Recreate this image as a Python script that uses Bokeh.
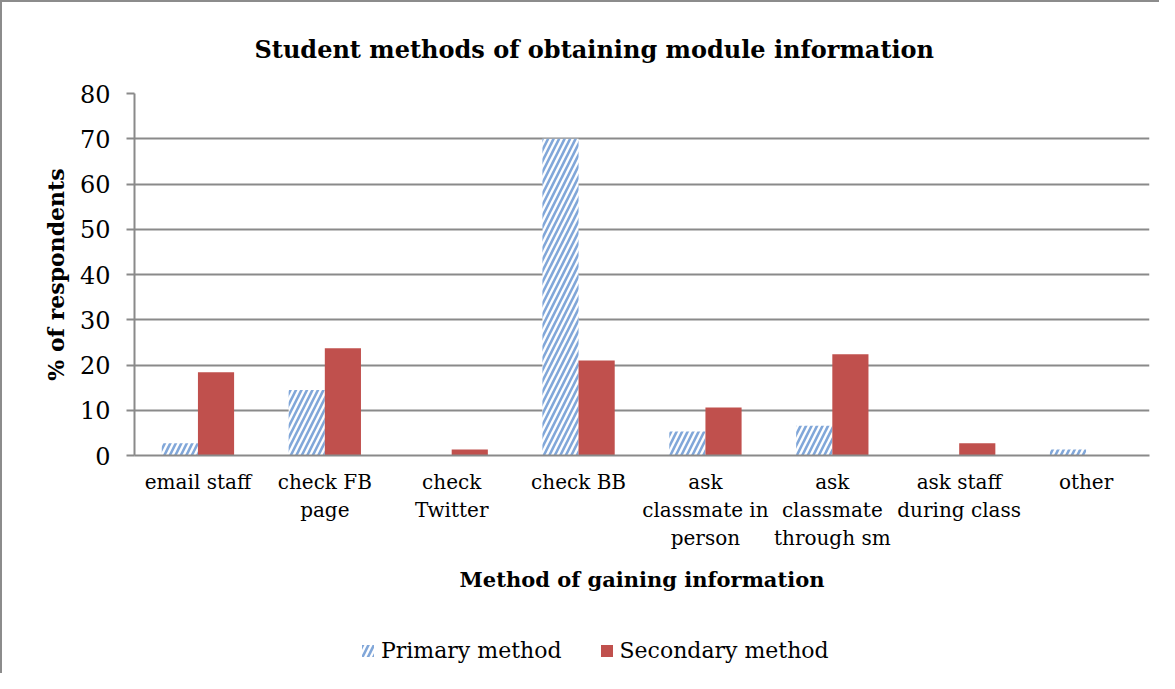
from bokeh.plotting import figure
from bokeh.models import ColumnDataSource, FixedTicker, Legend, LegendItem
from bokeh.layouts import column
from bokeh.embed import file_html
from bokeh.resources import INLINE

categories = ["email staff", "check FB\npage", "check\nTwitter", "check BB",
              "ask\nclassmate in\nperson", "ask\nclassmate\nthrough sm",
              "ask staff\nduring class", "other"]
primary = [2.7, 14.5, 0.0, 70.0, 5.3, 6.6, 0.0, 1.3]
secondary = [18.4, 23.7, 1.3, 21.0, 10.6, 22.4, 2.7, 0.0]
y_ticks = [0, 10, 20, 30, 40, 50, 60, 70, 80]
series_names = ["Primary method", "Secondary method"]

FONT = "DejaVu Serif"
GRID = "#8a8a8a"
RED = "#C0504D"
HATCH = dict(hatch_pattern="/", hatch_color="#6b98d2", hatch_alpha=0.85,
             hatch_scale=11, hatch_weight=2.6)

n = len(categories)
centers = [i + 0.5 for i in range(n)]
bw = 0.285
src = ColumnDataSource(dict(
    xp=[c - bw / 2 for c in centers],
    xs=[c + bw / 2 for c in centers],
    primary=primary, secondary=secondary))

W = 1159
H_MAIN = 626
H_LEG = 47

p = figure(width=W, height=H_MAIN, x_range=(0, n), y_range=(0, 80),
           output_backend="svg", toolbar_location=None,
           min_border_left=132, min_border_right=12,
           min_border_top=91, min_border_bottom=H_MAIN - 453)
p.styles = {"border-left": "2px solid #8c8c8c", "border-top": "2px solid #8c8c8c"}
p.outline_line_color = None
p.background_fill_color = "white"
p.border_fill_color = "white"

p.title.text = "Student methods of obtaining module information"
p.title.align = "left"
p.title.offset = 120
p.title.text_font = FONT
p.title.text_font_style = "bold"
p.title.text_font_size = "24px"
p.title.text_color = "black"
p.title.standoff = 60

p.vbar(x="xp", top="primary", width=bw, source=src, fill_color="white",
       line_color=None, **HATCH)
p.vbar(x="xs", top="secondary", width=bw, source=src, fill_color=RED,
       line_color=None)

p.xgrid.grid_line_color = None
p.ygrid.grid_line_color = GRID
p.ygrid.grid_line_width = 2
p.yaxis.ticker = FixedTicker(ticks=y_ticks)
p.yaxis.minor_tick_line_color = None
p.yaxis.major_tick_in = 0
p.yaxis.major_tick_out = 8
p.yaxis.major_tick_line_color = GRID
p.yaxis.major_tick_line_width = 2
p.yaxis.axis_line_color = GRID
p.yaxis.axis_line_width = 2
p.yaxis.major_label_text_font = FONT
p.yaxis.major_label_text_font_size = "24px"
p.yaxis.major_label_text_color = "black"
p.yaxis.major_label_standoff = 16
p.yaxis.axis_label = "% of respondents"
p.yaxis.axis_label_text_font = FONT
p.yaxis.axis_label_text_font_style = "bold"
p.yaxis.axis_label_text_font_size = "22px"
p.yaxis.axis_label_text_color = "black"
p.yaxis.axis_label_standoff = 8

p.xaxis.ticker = FixedTicker(ticks=centers)
p.xaxis.major_label_overrides = {c: lab for c, lab in zip(centers, categories)}
p.xaxis.major_tick_line_color = None
p.xaxis.minor_tick_line_color = None
p.xaxis.major_tick_in = 0
p.xaxis.major_tick_out = 0
p.xaxis.axis_line_color = GRID
p.xaxis.axis_line_width = 2
p.xaxis.major_label_text_font = FONT
p.xaxis.major_label_text_font_size = "20px"
p.xaxis.major_label_text_color = "black"
p.xaxis.major_label_text_line_height = 1.17
p.xaxis.major_label_standoff = 14
p.xaxis.axis_label = "Method of gaining information"
p.xaxis.axis_label_text_font = FONT
p.xaxis.axis_label_text_font_style = "bold"
p.xaxis.axis_label_text_font_size = "21px"
p.xaxis.axis_label_text_color = "black"
p.xaxis.axis_label_standoff = 14

# legend strip below the chart (same bars, drawn outside this strip's view)
lg = figure(width=W, height=H_LEG, x_range=(100, 101), y_range=(100, 101),
            output_backend="svg", toolbar_location=None,
            x_axis_location=None, y_axis_location=None,
            min_border=0, min_border_left=132, min_border_right=12)
lg.styles = {"border-left": "2px solid #8c8c8c"}
lg.grid.visible = False
lg.outline_line_color = None
lg.border_fill_color = "white"
r1 = lg.vbar(x="xp", top="primary", width=bw, source=src, fill_color="white",
             line_color=None, **HATCH)
r2 = lg.vbar(x="xs", top="secondary", width=bw, source=src, fill_color=RED,
             line_color=None)
legend = Legend(items=[LegendItem(label=series_names[0], renderers=[r1]),
                       LegendItem(label=series_names[1], renderers=[r2])],
                orientation="horizontal", location=(226, 10),
                label_text_font=FONT, label_text_font_size="22px",
                label_text_color="black", glyph_width=15, glyph_height=15,
                spacing=37, label_standoff=6, border_line_color=None,
                background_fill_alpha=0, padding=0, margin=0)
lg.add_layout(legend, "center")

layout = column(p, lg, spacing=0)
open("out.html", "w").write(file_html(layout, INLINE))
